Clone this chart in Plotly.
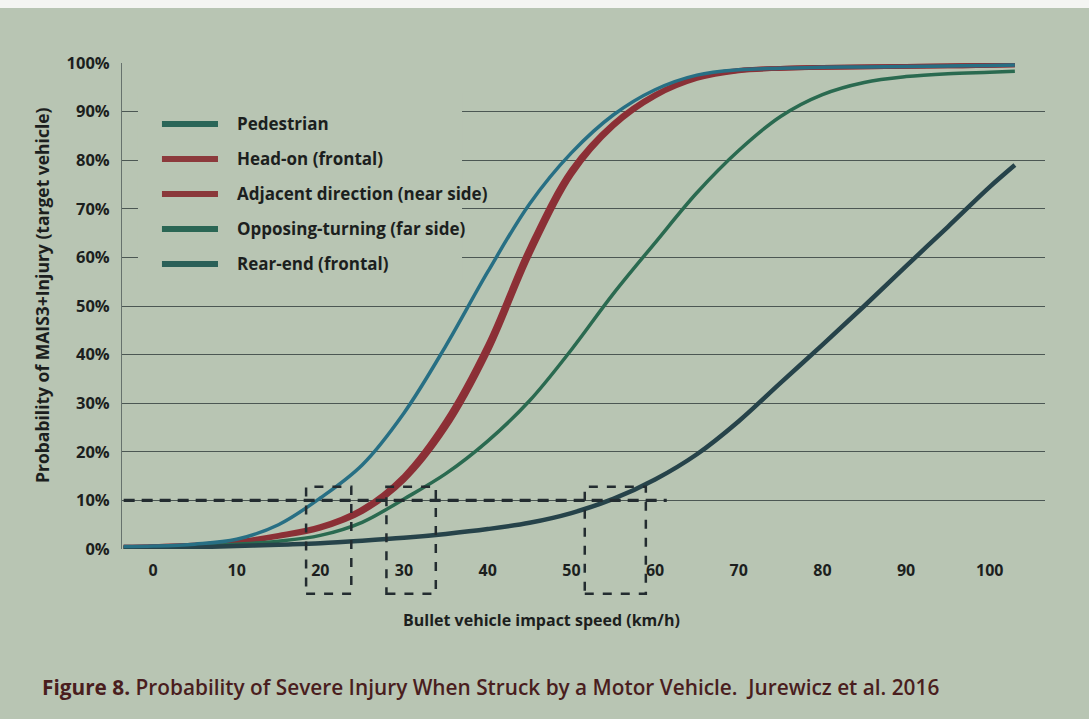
import plotly.graph_objects as go

# ---- data ----
speed = [-3.5, 0, 5, 10, 15, 20, 25, 30, 35, 40, 45, 50, 55, 60, 65, 70, 75, 80, 85, 90, 95, 100, 103]

pedestrian = [0.5, 0.6, 1.0, 2.0, 5.0, 10.5, 17.3, 28, 41.8, 57, 71, 81.5, 89.3, 94.5, 97.5, 98.6, 98.9, 99.1, 99.2, 99.3, 99.4, 99.5, 99.6]
head_on = [0.4, 0.5, 0.8, 1.5, 2.8, 4.6, 8.2, 15, 26.3, 42, 62, 78, 87.5, 93.5, 97, 98.5, 98.9, 99.1, 99.2, 99.3, 99.4, 99.5, 99.6]
adjacent = [0.4, 0.5, 0.8, 1.4, 2.6, 4.3, 7.7, 14.2, 25, 40.5, 60.5, 77, 87, 93.2, 96.8, 98.4, 98.9, 99.1, 99.2, 99.3, 99.4, 99.5, 99.6]
opposing = [0.3, 0.4, 0.6, 1.0, 1.6, 2.8, 5.5, 10.3, 15.5, 22.2, 30.5, 41, 52.5, 63, 73.3, 82, 89, 93.5, 96, 97.2, 97.8, 98.1, 98.3]
rear_end = [0.2, 0.3, 0.4, 0.6, 0.9, 1.2, 1.7, 2.3, 3.1, 4.1, 5.4, 7.4, 10.3, 14.3, 19.5, 26.3, 34.2, 42, 50, 58.2, 66.3, 74.5, 79]

series_names = ["Pedestrian", "Head-on (frontal)", "Adjacent direction (near side)",
                "Opposing-turning (far side)", "Rear-end (frontal)"]
series_values = [pedestrian, head_on, adjacent, opposing, rear_end]

x_ticks = [0, 10, 20, 30, 40, 50, 60, 70, 80, 90, 100]
y_ticks = [0, 10, 20, 30, 40, 50, 60, 70, 80, 90, 100]
y_ticklabels = [f"{v}%" for v in y_ticks]

threshold = 10                     # 10% reference line
threshold_end = 61.4               # speed where the dashed 10% line stops
speed_windows = [(18.3, 23.7), (27.9, 33.8), (51.6, 58.9)]
window_top = 12.8                  # % level of the window tops
window_bottom = -9.2               # below axis (in % units)

x_title = "Bullet vehicle impact speed (km/h)"
y_title = "Probability of MAIS3+Injury (target vehicle)"
caption = "<b>Figure 8.</b> Probability of Severe Injury When Struck by a Motor Vehicle.  Jurewicz et al. 2016"

# ---- style ----
BG = "#b8c5b3"
INK = "#1c1f1e"
FONT = "Open Sans"

colors = ["#276f84", "#8f2f36", "#8a3036", "#2a6a50", "#26434a"]
widths = [3.5, 4.8, 4.8, 3.5, 4.5]
legend_colors = ["#2a6658", "#8c3a3c", "#8a383a", "#2a6654", "#2a6058"]
draw_order = [1, 2, 3, 4, 0]      # pedestrian drawn last (on top)

fig = go.Figure()
for i in draw_order:
    fig.add_trace(go.Scatter(
        x=speed, y=series_values[i], mode="lines", name=series_names[i],
        line=dict(color=colors[i], width=widths[i], shape="spline", smoothing=1.0),
        showlegend=False,
    ))

# dashed 10% threshold line
fig.add_shape(type="line", xref="x", yref="y",
              x0=speed[0], x1=threshold_end, y0=threshold, y1=threshold,
              line=dict(color="#232c30", width=3.2, dash="11px,7px"), layer="above")

# dashed speed windows (extend below the axis)
for (a, b) in speed_windows:
    fig.add_shape(type="rect", xref="x", yref="paper",
                  x0=a, x1=b, y0=window_bottom / 100, y1=window_top / 100,
                  line=dict(color="#232c30", width=2.5, dash="9px,9px"),
                  fillcolor="rgba(0,0,0,0)", layer="above")

# legend panel (covers gridlines like in the original), then entries
fig.add_shape(type="rect", xref="paper", yref="paper",
              x0=0.0173, x1=0.3684, y0=0.549, y1=0.940,
              line=dict(width=0), fillcolor=BG, layer="above")
legend_y0 = 0.8745     # paper y of first entry
legend_step = 0.0720   # paper spacing between entries
for k, name in enumerate(series_names):
    yy = legend_y0 - k * legend_step
    fig.add_shape(type="line", xref="paper", yref="paper",
                  x0=0.0433, x1=0.104, y0=yy, y1=yy,
                  line=dict(color=legend_colors[k], width=6), layer="above")
    fig.add_annotation(text=name, xref="paper", yref="paper",
                       x=0.1224, y=yy, xanchor="left", yanchor="middle",
                       showarrow=False,
                       font=dict(family=FONT, size=17, color=INK, weight=700))

# white strip at the top of the photograph
fig.add_shape(type="rect", xref="paper", yref="paper",
              x0=-0.2, x1=1.2, y0=1.113, y1=1.2,
              line=dict(width=0), fillcolor="#f4f5f2", layer="above")

fig.add_annotation(text=f"<b>{x_title}</b>", xref="paper", yref="paper",
                   x=0.455, y=-0.146, xanchor="center", yanchor="middle",
                   showarrow=False,
                   font=dict(family=FONT, size=16, color=INK))

fig.add_annotation(text=f"<b>{y_title}</b>", xref="paper", yref="paper",
                   x=-0.0867, y=0.5226, xanchor="center", yanchor="middle",
                   textangle=-90, showarrow=False,
                   font=dict(family=FONT, size=17.5, color=INK))

fig.add_annotation(text=caption, xref="paper", yref="paper",
                   x=-0.0888, y=-0.284, xanchor="left", yanchor="middle",
                   showarrow=False,
                   font=dict(family=FONT, size=20.8, color="#4a1e1e", weight=600))

fig.update_layout(
    width=1089, height=719,
    paper_bgcolor=BG, plot_bgcolor=BG,
    margin=dict(l=122, r=44, t=63, b=170),
    font=dict(family=FONT, color=INK),
    showlegend=False,
    xaxis=dict(
        range=[-3.7, 106.6], tickmode="array", tickvals=x_ticks,
        showgrid=False, zeroline=False, showline=False, ticks="",
        tickfont=dict(family=FONT, size=16, color=INK, weight=700),
        ticklabelstandoff=10,
    ),
    yaxis=dict(
        range=[0, 100], tickmode="array", tickvals=y_ticks, ticktext=y_ticklabels,
        showgrid=True, gridcolor="#4b5753", gridwidth=1.3,
        zeroline=False, showline=True, linecolor="#66726d", linewidth=1,
        ticks="", ticklabelstandoff=8,
        tickfont=dict(family=FONT, size=16.5, color=INK, weight=700),
    ),
)

fig.write_html("out.html",
               config={"displayModeBar": False},
               post_script="document.body.style.margin='0px';document.body.style.overflow='hidden';")
